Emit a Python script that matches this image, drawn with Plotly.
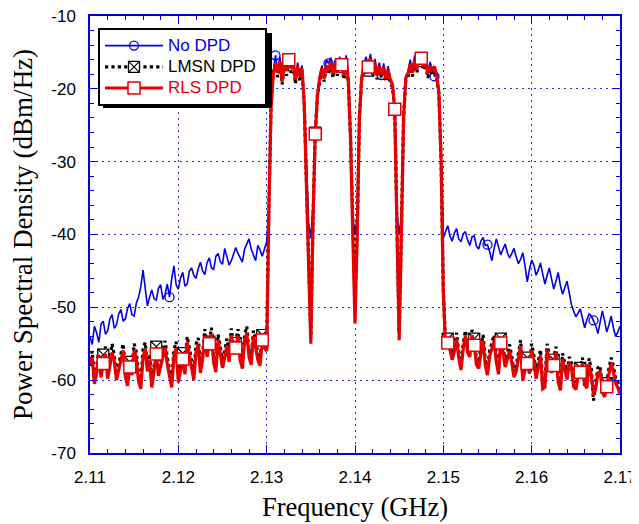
import numpy as np
import plotly.graph_objects as go

# ---------------- data ----------------
# frequency sweep (GHz), 0.25 MHz spacing: lower adjacent band, occupied band, upper adjacent band
f_left = [round(2.110 + 0.00025 * i, 5) for i in range(81)]
f_band = [round(2.13025 + 0.00025 * i, 5) for i in range(79)]
f_right = [round(2.150 + 0.00025 * i, 5) for i in range(81)]

nodpd_left = [-54.0, -55.1, -52.6, -53.5, -54.8, -52.3, -51.9, -53.7, -53.2, -51.6,
              -51.0, -52.9, -52.4, -50.9, -50.3, -51.9, -51.6, -50.2, -49.5, -51.0,
              -51.2, -49.4, -48.6, -47.2, -44.9, -47.5, -49.8, -48.6, -47.6, -48.8,
              -49.0, -47.4, -46.9, -48.9, -48.2, -46.8, -48.6, -46.1, -44.3, -46.9,
              -47.5, -46.0, -45.2, -47.1, -46.8, -45.0, -44.6, -45.6, -46.0, -44.7,
              -43.8, -45.0, -45.5, -43.9, -43.2, -44.6, -44.8, -43.0, -42.6, -43.7,
              -44.1, -41.9, -42.9, -44.2, -43.6, -42.7, -41.8, -42.6, -43.2, -43.8,
              -42.0, -41.4, -40.6, -42.0, -42.8, -43.6, -41.5, -42.1, -43.0, -41.8,
              -41.0]
nodpd_band = [-36.5, -22.3, -17.6, -15.4, -17.5, -15.6, -18.6, -16.3, -17.3, -15.5,
              -17.0, -15.9, -18.6, -16.4, -18.0, -16.8, -21.5, -31.0, -38.5, -40.5,
              -36.0, -25.8, -20.5, -18.2, -16.8, -18.3, -16.0, -16.5, -15.7, -17.8,
              -16.0, -17.6, -15.6, -16.4, -18.0, -15.4, -18.6, -26.5, -37.5, -40.0,
              -37.5, -23.6, -18.2, -16.6, -15.6, -16.7, -15.2, -17.4, -15.9, -18.0,
              -16.4, -18.1, -16.5, -18.4, -16.9, -18.6, -19.2, -22.4, -37.0, -40.0,
              -37.5, -23.6, -18.2, -17.7, -16.0, -17.6, -15.4, -17.2, -15.0, -15.5,
              -16.7, -15.6, -17.8, -16.3, -17.4, -18.3, -17.9, -20.2, -29.5]
nodpd_right = [-40.5, -39.6, -38.8, -40.2, -40.9, -39.8, -39.2, -40.6, -41.0, -39.9,
               -39.6, -40.8, -41.5, -40.3, -40.2, -41.6, -42.0, -40.9, -40.4, -41.5,
               -41.4, -42.4, -43.6, -41.9, -40.6, -41.7, -42.8, -42.0, -41.3, -42.5,
               -43.2, -42.6, -41.9, -43.1, -44.0, -43.4, -42.5, -44.3, -46.5, -44.8,
               -43.5, -44.2, -45.6, -44.9, -43.9, -45.4, -46.8, -45.6, -44.6, -46.1,
               -47.5, -46.4, -45.2, -47.0, -48.2, -47.3, -46.4, -48.0, -49.6, -50.5,
               -51.3, -50.8, -50.2, -51.5, -52.8, -51.7, -50.9, -51.2, -51.8, -52.5,
               -53.6, -52.1, -50.5, -51.8, -53.4, -52.4, -51.2, -52.8, -54.0, -53.4,
               -52.6]

lmsn_left = [-57.2, -56.0, -59.8, -58.3, -55.6, -58.8, -56.5, -55.4, -58.6, -57.2,
             -55.0, -56.6, -59.2, -57.7, -56.0, -55.0, -58.4, -59.9, -57.5, -58.4,
             -55.0, -56.2, -59.0, -60.3, -55.8, -54.8, -57.9, -56.4, -60.0, -58.1,
             -55.4, -58.5, -57.0, -55.7, -54.6, -56.9, -58.5, -60.2, -55.9, -54.7,
             -59.1, -57.6, -56.3, -58.3, -54.0, -55.6, -57.5, -59.1, -55.1, -54.2,
             -58.0, -56.3, -53.0, -55.9, -54.7, -52.8, -56.8, -58.0, -53.7, -55.4,
             -57.2, -56.0, -54.3, -56.6, -52.9, -55.5, -54.9, -53.0, -56.4, -57.5,
             -53.8, -52.6, -55.9, -57.0, -53.2, -54.5, -56.3, -57.1, -53.8, -54.8,
             -55.2]
lmsn_band = [-36.0, -22.0, -17.4, -16.7, -18.4, -16.4, -19.4, -17.0, -18.2, -16.2,
             -17.8, -16.6, -19.3, -17.1, -18.9, -17.5, -21.8, -31.5, -43.5, -54.0,
             -37.8, -26.0, -20.8, -18.9, -17.4, -19.0, -17.0, -18.0, -16.6, -18.5,
             -16.8, -18.2, -16.5, -17.0, -18.7, -16.3, -19.3, -26.8, -39.5, -49.0,
             -39.5, -23.8, -18.8, -17.4, -16.6, -17.5, -16.2, -18.1, -16.8, -18.7,
             -17.2, -18.5, -17.4, -19.0, -17.8, -19.2, -19.8, -22.8, -38.8, -53.5,
             -39.6, -23.8, -18.8, -18.4, -17.0, -18.3, -16.4, -17.8, -16.0, -16.2,
             -17.4, -16.6, -18.5, -17.2, -18.1, -17.3, -18.6, -20.7, -30.3]
lmsn_right = [-47.5, -55.0, -54.3, -55.1, -56.4, -55.3, -53.5, -56.3, -57.9, -55.0,
              -53.2, -55.4, -56.0, -53.1, -54.3, -57.1, -57.6, -55.5, -53.8, -57.2,
              -58.5, -55.9, -55.0, -53.8, -56.6, -58.4, -54.3, -55.3, -57.4, -56.0,
              -55.1, -56.8, -58.8, -58.0, -56.0, -54.5, -59.4, -57.8, -56.9, -58.3,
              -55.0, -56.6, -59.0, -57.5, -55.8, -60.4, -60.1, -55.0, -56.5, -58.2,
              -57.2, -55.4, -59.5, -60.6, -56.3, -58.0, -59.2, -56.8, -57.4, -60.1,
              -60.6, -58.8, -58.3, -56.9, -61.0, -60.3, -57.0, -58.5, -62.8, -60.4,
              -58.3, -58.0, -61.0, -61.5, -60.4, -58.4, -56.9, -58.1, -59.8, -60.2,
              -61.5]

rls_left = [-58.0, -56.9, -60.5, -59.1, -56.5, -59.6, -57.7, -56.4, -59.8, -58.1,
            -56.2, -57.4, -60.0, -58.6, -57.0, -55.9, -59.5, -60.8, -58.2, -59.3,
            -55.8, -57.1, -60.2, -61.2, -56.9, -55.7, -58.8, -57.3, -61.0, -59.0,
            -56.4, -59.4, -58.0, -56.6, -55.5, -57.8, -59.6, -61.0, -56.8, -55.6,
            -60.3, -58.5, -57.1, -59.2, -54.8, -56.5, -58.4, -60.0, -56.2, -55.1,
            -59.0, -57.2, -53.9, -56.8, -55.0, -53.6, -57.6, -58.9, -54.5, -56.3,
            -58.3, -56.9, -55.2, -57.5, -53.8, -56.4, -55.6, -53.9, -57.3, -58.4,
            -54.6, -53.5, -56.8, -57.9, -54.0, -55.4, -57.2, -58.0, -54.5, -55.6,
            -56.0]
rls_band = [-37.0, -22.5, -18.0, -16.5, -17.8, -16.2, -19.0, -16.8, -17.5, -16.0,
            -17.2, -16.4, -18.8, -16.9, -18.3, -17.2, -22.0, -32.0, -44.0, -55.0,
            -38.0, -26.2, -21.0, -18.5, -17.2, -18.6, -16.8, -17.5, -16.3, -18.0,
            -16.5, -17.8, -16.2, -16.7, -18.2, -16.0, -19.0, -27.0, -40.0, -52.2,
            -40.0, -24.0, -18.5, -17.0, -16.2, -17.0, -15.8, -17.6, -16.4, -18.2,
            -16.9, -18.0, -17.0, -18.6, -17.4, -18.8, -19.5, -22.8, -39.0, -54.5,
            -40.0, -24.0, -18.5, -18.0, -16.6, -17.8, -16.0, -17.4, -15.6, -15.8,
            -17.0, -16.2, -18.0, -16.8, -17.6, -16.9, -18.2, -20.5, -30.0]
rls_right = [-48.0, -55.5, -54.9, -55.8, -57.2, -56.1, -54.3, -57.0, -58.6, -55.7,
             -53.9, -56.2, -56.8, -53.8, -55.2, -57.9, -58.4, -56.3, -54.6, -58.0,
             -59.3, -56.7, -55.8, -54.6, -57.5, -59.2, -54.9, -56.1, -58.2, -56.9,
             -56.0, -57.6, -59.6, -58.8, -56.9, -55.3, -60.1, -58.6, -57.7, -59.1,
             -55.9, -57.4, -59.8, -58.3, -56.6, -61.2, -61.0, -55.8, -57.4, -59.0,
             -58.0, -56.2, -60.3, -61.4, -57.1, -58.8, -59.9, -57.6, -58.2, -60.9,
             -61.3, -59.6, -58.9, -57.7, -60.5, -61.1, -57.8, -59.3, -62.0, -61.2,
             -59.0, -58.8, -61.6, -62.3, -60.9, -59.2, -57.6, -58.9, -60.4, -61.0,
             -62.0]

# frequencies at which the plotting program drew symbols
circle_freqs = [2.119, 2.131, 2.137, 2.143, 2.149, 2.155, 2.167]
square_freqs = [2.1115, 2.1145, 2.1175, 2.1205, 2.1235, 2.1265, 2.1295, 2.1325,
                2.1355, 2.1385, 2.1415, 2.1445, 2.1475, 2.1505, 2.1535, 2.1565,
                2.1595, 2.1625, 2.1655, 2.1685]

x_ticks = [2.11, 2.12, 2.13, 2.14, 2.15, 2.16, 2.17]
x_ticktext = ["2.11", "2.12", "2.13", "2.14", "2.15", "2.16", "2.17"]
y_ticks = [-70, -60, -50, -40, -30, -20, -10]
y_ticktext = ["-70", "-60", "-50", "-40", "-30", "-20", "-10"]

# ---------------- build ----------------
freq = np.array(f_left + f_band + f_right)
nodpd = np.array(nodpd_left + nodpd_band + nodpd_right)
lmsn = np.array(lmsn_left + lmsn_band + lmsn_right)
rls = np.array(rls_left + rls_band + rls_right)


def idx_of(fs):
    return [int(np.argmin(np.abs(freq - f))) for f in fs]


ci = idx_of(circle_freqs)
si = idx_of(square_freqs)

BLUE = "#0000e6"
RED = "#e60000"
BLACK = "#000000"
GRID = "#2a2aff"

fig = go.Figure()

# No DPD
fig.add_trace(go.Scatter(x=freq, y=nodpd, mode="lines", line=dict(color=BLUE, width=1.6),
                         showlegend=False, hoverinfo="skip"))
fig.add_trace(go.Scatter(x=freq[ci], y=nodpd[ci], mode="markers",
                         marker=dict(symbol="circle-open", size=9, color=BLUE, line=dict(width=1.3)),
                         showlegend=False, hoverinfo="skip"))
# LMSN DPD
fig.add_trace(go.Scatter(x=freq, y=lmsn, mode="lines", line=dict(color=BLACK, width=3.2, dash="dot"),
                         showlegend=False, hoverinfo="skip"))
fig.add_trace(go.Scatter(x=freq[si], y=lmsn[si], mode="markers",
                         marker=dict(symbol="square-x", size=11, color="white",
                                     line=dict(color=BLACK, width=1.2)),
                         showlegend=False, hoverinfo="skip"))
# RLS DPD
fig.add_trace(go.Scatter(x=freq, y=rls, mode="lines", line=dict(color=RED, width=3.2),
                         showlegend=False, hoverinfo="skip"))
fig.add_trace(go.Scatter(x=freq[si], y=rls[si], mode="markers",
                         marker=dict(symbol="square", size=12, color="white",
                                     line=dict(color=RED, width=1.5)),
                         showlegend=False, hoverinfo="skip"))

# legend entries (text drawn at 17px; row height driven by the 14px legend font)
def legend_name(text, color):
    return f"<span style='color:{color};font-size:17px'>{text}</span>\u00a0"

fig.add_trace(go.Scatter(x=[None], y=[None], mode="lines+markers",
                         name=legend_name("No DPD", BLUE),
                         line=dict(color=BLUE, width=1.6),
                         marker=dict(symbol="circle-open", size=9, color=BLUE, line=dict(width=1.3))))
fig.add_trace(go.Scatter(x=[None], y=[None], mode="lines+markers",
                         name=legend_name("LMSN DPD", BLACK),
                         line=dict(color=BLACK, width=3.2, dash="dot"),
                         marker=dict(symbol="square-x", size=11, color="white",
                                     line=dict(color=BLACK, width=1.2))))
fig.add_trace(go.Scatter(x=[None], y=[None], mode="lines+markers",
                         name=legend_name("RLS DPD", RED),
                         line=dict(color=RED, width=3.2),
                         marker=dict(symbol="square", size=12, color="white",
                                     line=dict(color=RED, width=1.5))))

axis_common = dict(
    showline=True, linecolor=BLUE, linewidth=1.5, mirror="ticks",
    ticks="inside", tickcolor=BLUE, ticklen=8, tickwidth=1.2,
    showgrid=True, gridcolor=GRID, griddash="2px,4px", gridwidth=1.3,
    zeroline=False, automargin=False, ticklabeloverflow="allow",
    tickfont=dict(family="Liberation Sans, Arial", size=17, color="black"),
)

fig.update_xaxes(
    range=[2.11, 2.17], tickvals=x_ticks, ticktext=x_ticktext,
    minor=dict(dtick=0.002, ticks="inside", ticklen=4, tickcolor=BLUE, showgrid=False),
    title=dict(text="Frequency (GHz)", font=dict(family="Liberation Serif, Times New Roman", size=26.5, color="black"),
               standoff=11),
    ticklabelstandoff=8,
    **axis_common,
)
fig.update_yaxes(
    range=[-70, -10], tickvals=y_ticks, ticktext=y_ticktext,
    minor=dict(dtick=2, ticks="inside", ticklen=4, tickcolor=BLUE, showgrid=False),
    title=dict(text="Power Spectral Density (dBm/Hz)",
               font=dict(family="Liberation Serif, Times New Roman", size=27, color="black"),
               standoff=19),
    ticklabelstandoff=9,
    **axis_common,
)

# legend shadow (pixel -> paper conversion; plot area spans page px 90..620 x 16..453,
# the page body adds an 8px offset)
L, T, PW, PH = 90, 16, 530, 437
def px(x):
    return (x - L) / PW
def py(y):
    return 1 - (y - T) / PH

fig.add_shape(type="rect", xref="paper", yref="paper",
              x0=px(103), x1=px(272), y0=py(108), y1=py(33),
              fillcolor="black", line=dict(width=0), layer="above")

fig.update_layout(
    width=631, height=516,
    margin=dict(l=82, r=19, t=8, b=71),
    paper_bgcolor="white", plot_bgcolor="white",
    legend=dict(x=px(98), y=py(28), xanchor="left", yanchor="top",
                bgcolor="white", bordercolor="black", borderwidth=2,
                font=dict(family="Liberation Sans, Arial", size=14, color="black"),
                tracegroupgap=0, itemwidth=58),
    showlegend=True,
)

fig.write_html("out.html")
